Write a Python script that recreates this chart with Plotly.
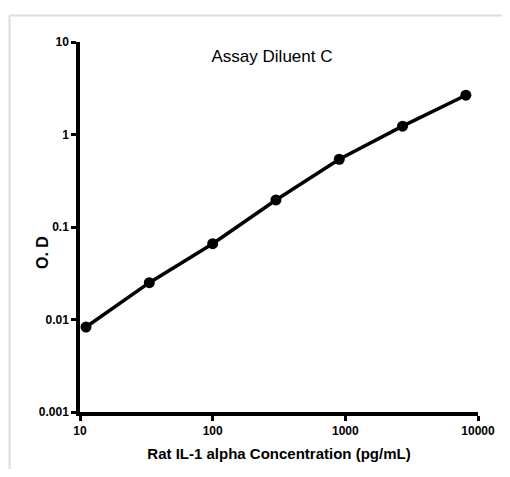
import plotly.graph_objects as go

concentration = [11.1, 33.3, 100, 300, 900, 2700, 8100]
od = [0.0083, 0.025, 0.066, 0.196, 0.54, 1.23, 2.66]
x_ticks = [10, 100, 1000, 10000]
x_tick_labels = ["10", "100", "1000", "10000"]
y_ticks = [0.001, 0.01, 0.1, 1, 10]
y_tick_labels = ["0.001", "0.01", "0.1", "1", "10"]

sans = "Liberation Sans, Arial"

# page body adds an 8px margin on each side; keep the page within the window
W, H = 494, 461

fig = go.Figure()
fig.add_trace(go.Scatter(
    x=concentration, y=od, mode="lines+markers",
    line=dict(color="black", width=3.5),
    marker=dict(color="black", size=11),
    showlegend=False, cliponaxis=False,
))

frame_left = (9.5 - 80) / 398
frame_top = (412 - 15.5) / 370
frame_style = dict(color="#dddddd", width=2)

fig.update_layout(
    width=W, height=H,
    margin=dict(l=72, r=24, t=34, b=57, autoexpand=False),
    paper_bgcolor="white", plot_bgcolor="white",
    title=dict(text="Assay Diluent C", x=264/W, xanchor="center", y=1-48/H, yanchor="middle",
               font=dict(family=sans, size=17, color="black")),
    shapes=[
        dict(type="line", xref="paper", yref="paper",
             x0=frame_left, x1=1.2, y0=frame_top, y1=frame_top,
             line=frame_style, layer="below"),
        dict(type="line", xref="paper", yref="paper",
             x0=frame_left, x1=frame_left, y0=frame_top, y1=-0.3,
             line=frame_style, layer="below"),
    ],
    annotations=[dict(text="<b>O. D</b>", xref="paper", yref="paper",
                      x=(43-80)/398, y=(412-253)/370, textangle=-90,
                      showarrow=False, xanchor="center", yanchor="middle",
                      font=dict(family=sans, size=16, color="black"))],
)
fig.update_xaxes(
    type="log", range=[1, 4], automargin=False,
    tickvals=x_ticks, ticktext=x_tick_labels,
    showgrid=False, zeroline=False,
    showline=True, linecolor="black", linewidth=3.5,
    ticks="outside", ticklen=5, tickwidth=3, tickcolor="black",
    tickfont=dict(family=sans, size=12, color="black", weight="bold"),
    title=dict(text="<b>Rat IL-1 alpha Concentration (pg/mL)</b>", standoff=12,
               font=dict(family=sans, size=15, color="black")),
)
fig.update_yaxes(
    type="log", range=[-3, 1], automargin=False,
    tickvals=y_ticks, ticktext=y_tick_labels,
    showgrid=False, zeroline=False,
    showline=True, linecolor="black", linewidth=3.5,
    ticks="outside", ticklen=5, tickwidth=3, tickcolor="black",
    tickfont=dict(family=sans, size=12, color="black", weight="bold"),
)

fig.write_html("out.html")
